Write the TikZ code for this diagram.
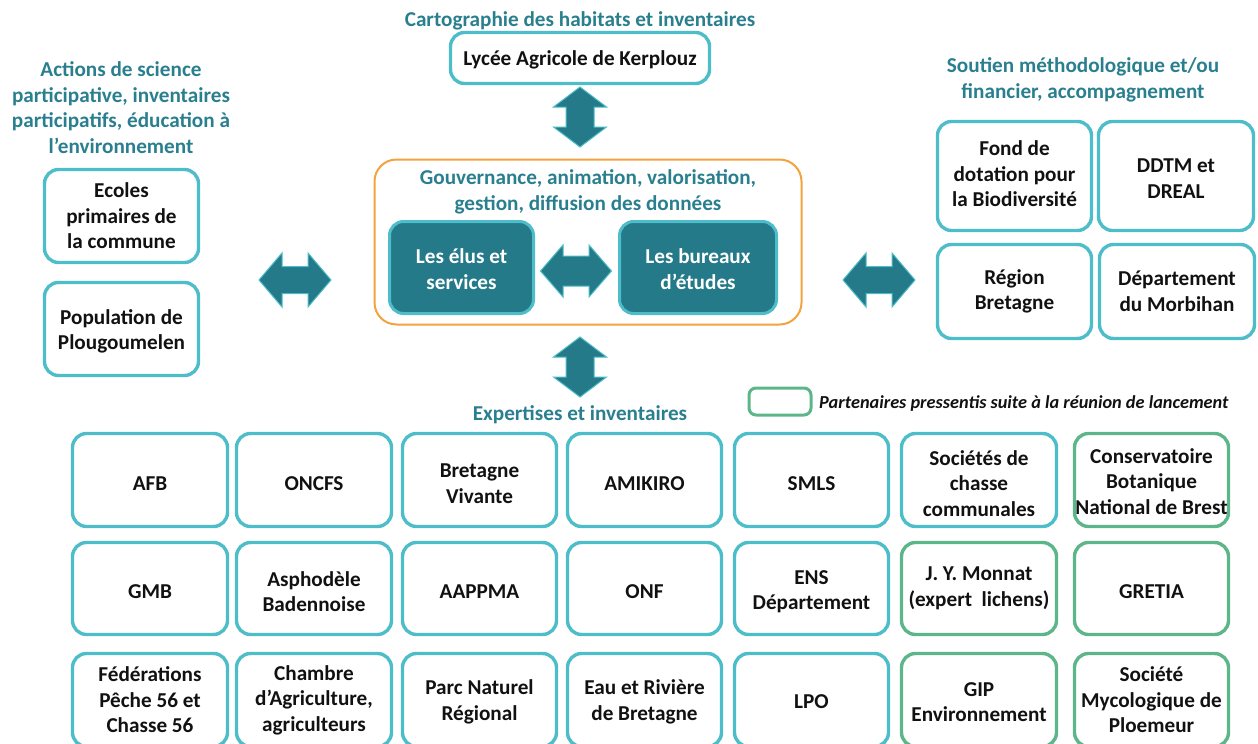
\documentclass[tikz,border=0pt]{standalone}
\usepackage{fontspec}
\setmainfont{Carlito}
\definecolor{boxc}{HTML}{4DBDC9}
\definecolor{greenc}{HTML}{5DB58A}
\definecolor{orangec}{HTML}{F3A33E}
\definecolor{darkc}{HTML}{247A89}
\definecolor{headc}{HTML}{2A7F8F}
\definecolor{txtc}{HTML}{111111}
\tikzset{
  base/.style={align=center, font=\fontsize{21.2}{25.5}\selectfont\bfseries, text=txtc, inner sep=0pt},
  box/.style={base, draw=boxc, line width=3.4pt, rounded corners=14pt},
  gbox/.style={base, draw=greenc, line width=3.4pt, rounded corners=14pt},
  dbox/.style={base, draw=boxc, fill=darkc, text=white, line width=3pt, rounded corners=14pt},
  head/.style={base, text=headc},
  tx/.style 2 args={label={[base,yshift=-#1]center:{#2}}},
  wtx/.style 2 args={label={[base,text=white,yshift=-#1]center:{#2}}},
  arrowfill/.style={fill=darkc, draw=boxc, line width=1pt},
  harrow/.pic={\filldraw[arrowfill] (-36,0) -- (-13,-27) -- (-13,-13.5) -- (13,-13.5) -- (13,-27) -- (36,0) -- (13,27) -- (13,13.5) -- (-13,13.5) -- (-13,27) -- cycle;},
  marrow/.pic={\filldraw[arrowfill] (-35.5,0) -- (-13,-26) -- (-13,-15) -- (13,-15) -- (13,-26) -- (35.5,0) -- (13,26) -- (13,15) -- (-13,15) -- (-13,26) -- cycle;},
  varrow/.pic={\filldraw[arrowfill] (0,-30) -- (26.5,-10) -- (14,-10) -- (14,10) -- (26.5,10) -- (0,30) -- (-26.5,10) -- (-14,10) -- (-14,-10) -- (-26.5,-10) -- cycle;}
}
\begin{document}
\begin{tikzpicture}[x=1pt,y=-1pt]
\useasboundingbox (0,0) rectangle (1258,744);
% headings
\node[head] (h1) at (580,21) {Cartographie des habitats et inventaires};
\node[head] (h2) at (121,107.5) {Actions de science\\participative, inventaires\\participatifs, éducation à\\l’environnement};
\node[head] (h3) at (1083,80) {Soutien méthodologique et/ou\\financier, accompagnement};
\node[head] (h4) at (580,415) {Expertises et inventaires};
% top
\node[box, minimum width=259pt, minimum height=51pt, tx={2pt}{Lycée Agricole de Kerplouz}] (lycee) at (580,58) {};
% center
\node[draw=orangec, line width=2pt, rounded corners=22pt, minimum width=427pt, minimum height=165pt] (gouv) at (588,242) {};
\node[head] (gouvt) at (588,192) {Gouvernance, animation, valorisation,\\gestion, diffusion des données};
\node[dbox, minimum width=144pt, minimum height=92pt, wtx={1.5pt}{Les élus et\\services}] (elus) at (461.5,267.5) {};
\node[dbox, minimum width=157pt, minimum height=92pt, wtx={1.5pt}{Les bureaux\\d’études}] (bureaux) at (698,267.5) {};
% left
\node[box, minimum width=154pt, minimum height=93pt, tx={0pt}{Ecoles\\primaires de\\la commune}] (ecoles) at (121.5,216) {};
\node[box, minimum width=154pt, minimum height=93pt, tx={2.5pt}{Population de\\Plougoumelen}] (popu) at (121.5,329) {};
% right
\node[box, minimum width=154pt, minimum height=109pt, tx={-2pt}{Fond de\\dotation pour\\la Biodiversité}] (fond) at (1014.5,176) {};
\node[box, minimum width=155pt, minimum height=109pt, tx={2.5pt}{DDTM et\\DREAL}] (ddtm) at (1176,176) {};
\node[box, minimum width=154pt, minimum height=94pt, tx={0pt}{Région\\Bretagne}] (region) at (1014.5,291.5) {};
\node[box, minimum width=155pt, minimum height=94pt, tx={0pt}{Département\\du Morbihan}] (dept) at (1177,291.5) {};
% arrows
\pic at (295,280) {harrow};
\pic at (879,280) {harrow};
\pic at (576,271) {marrow};
\pic at (580,117) {varrow};
\pic at (580,367) {varrow};
% legend
\node[gbox, line width=3pt, rounded corners=7pt, minimum width=62pt, minimum height=27pt] (leg) at (780,401.5) {};
\node[base, anchor=west, font=\fontsize{18.3}{22}\selectfont\bfseries\itshape] (legt) at (819,404) {Partenaires pressentis suite à la réunion de lancement};
% grid row 1
\node[box, minimum width=155pt, minimum height=93pt, tx={3.5pt}{AFB}] (afb) at (150,480) {};
\node[box, minimum width=155pt, minimum height=93pt, tx={3.5pt}{ONCFS}] (oncfs) at (314,480) {};
\node[box, minimum width=154pt, minimum height=93pt, tx={3.5pt}{Bretagne\\Vivante}] (bv) at (479.5,480) {};
\node[box, minimum width=154pt, minimum height=93pt, tx={3.5pt}{AMIKIRO}] (amikiro) at (644.5,480) {};
\node[box, minimum width=154pt, minimum height=93pt, tx={3.5pt}{SMLS}] (smls) at (811.5,480) {};
\node[box, minimum width=155pt, minimum height=93pt, tx={3.5pt}{Sociétés de\\chasse\\communales}] (socc) at (979,480) {};
\node[gbox, minimum width=154pt, minimum height=93pt, tx={1.5pt}{Conservatoire\\Botanique\\National de Brest}] (cbn) at (1151.5,480) {};
% grid row 2
\node[box, minimum width=155pt, minimum height=92pt, tx={3pt}{GMB}] (gmb) at (150,588.5) {};
\node[box, minimum width=155pt, minimum height=92pt, tx={3pt}{Asphodèle\\Badennoise}] (asph) at (314,588.5) {};
\node[box, minimum width=154pt, minimum height=92pt, tx={3pt}{AAPPMA}] (aappma) at (479.5,588.5) {};
\node[box, minimum width=154pt, minimum height=92pt, tx={3pt}{ONF}] (onf) at (644.5,588.5) {};
\node[box, minimum width=154pt, minimum height=92pt, tx={3pt}{ENS\\Département}] (ens) at (811.5,588.5) {};
\node[gbox, minimum width=155pt, minimum height=92pt, tx={0pt}{J. Y. Monnat\\(expert\ \ lichens)}] (monnat) at (979,588.5) {};
\node[gbox, minimum width=154pt, minimum height=92pt, tx={3pt}{GRETIA}] (gretia) at (1151.5,588.5) {};
% grid row 3
\node[box, minimum width=155pt, minimum height=93pt, tx={0pt}{Fédérations\\Pêche 56 et\\Chasse 56}] (fed) at (150,700) {};
\node[box, minimum width=155pt, minimum height=93pt, tx={0pt}{Chambre\\d’Agriculture,\\agriculteurs}] (chambre) at (314,700) {};
\node[box, minimum width=154pt, minimum height=93pt, tx={2pt}{Parc Naturel\\Régional}] (pnr) at (479.5,700) {};
\node[box, minimum width=154pt, minimum height=93pt, tx={2pt}{Eau et Rivière\\de Bretagne}] (err) at (644.5,700) {};
\node[box, minimum width=154pt, minimum height=93pt, tx={2pt}{LPO}] (lpo) at (811.5,700) {};
\node[gbox, minimum width=155pt, minimum height=93pt, tx={2pt}{GIP\\Environnement}] (gip) at (979,700) {};
\node[gbox, minimum width=154pt, minimum height=93pt, tx={0pt}{Société\\Mycologique de\\Ploemeur}] (smp) at (1151.5,700) {};
\end{tikzpicture}
\end{document}
